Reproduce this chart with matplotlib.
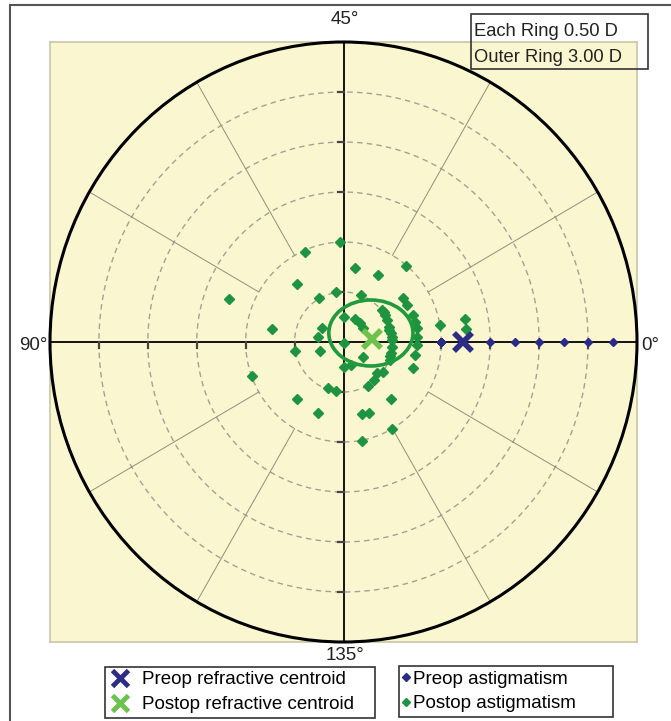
import numpy as np
import matplotlib
matplotlib.use("Agg")
import matplotlib.pyplot as plt
from matplotlib.patches import Circle, Ellipse, Rectangle
from matplotlib.lines import Line2D

plt.rcParams["font.family"] = ["Liberation Sans", "DejaVu Sans"]

# ring settings (D)
ring_step = 0.5
outer_ring = 3.0

# preop astigmatism, all on the 0 deg meridian (double-angle x, D)
preop_x = [1.0, 1.0, 1.0, 1.0, 1.0, 1.0, 1.0, 1.0, 1.5, 1.75, 2.0, 2.25, 2.5, 2.75]
preop_y = [0.0] * len(preop_x)

# postop astigmatism, double-angle components (D)
postop_x = [-0.04, -0.39, 0.12, 0.35, 0.64, -0.48, -0.08, -0.25, 0.18, -1.17,
            0.61, 0.65, 0.39, 0.42, 0.71, 0.73, 0.75, 0.12, 0.17, 0.20,
            0.44, 0.46, 0.49, 0.50, 0.50, 0.49, 0.48, 0.75, 0.75, 0.73,
            0.71, 0.99, 1.24, 1.25, 0.00, -0.22, -0.26, 0.00, -0.73, -0.50,
            -0.24, 0.20, 0.00, 0.08, -0.94, 0.34, 0.31, 0.25, 0.40, -0.16,
            -0.08, -0.48, 0.49, -0.26, 0.19, 0.26, 0.50, 0.19, 0.41, 0.47,
            0.50, 0.48]
postop_y = [1.00, 0.90, 0.74, 0.67, 0.76, 0.58, 0.50, 0.44, 0.47, 0.43,
            0.44, 0.37, 0.32, 0.27, 0.27, 0.20, 0.14, 0.23, 0.19, 0.14,
            0.22, 0.15, 0.09, 0.02, -0.05, -0.11, -0.18, 0.05, -0.03, -0.13,
            -0.26, 0.17, 0.23, 0.13, 0.25, 0.14, 0.05, -0.01, 0.13, -0.09,
            -0.09, -0.15, -0.25, -0.23, -0.34, -0.31, -0.38, -0.44, -0.30, -0.46,
            -0.49, -0.57, -0.57, -0.71, -0.72, -0.71, -0.87, -0.99, 0.30, 0.12,
            0.05, -0.14]

# centroids and postop confidence ellipse (D)
preop_centroid = (1.22, 0.0)
postop_centroid = (0.29, 0.03)
ellipse_center = (0.28, 0.09)
ellipse_size = (0.86, 0.66)

axis_labels = ["0°", "45°", "90°", "135°"]

W, H = 671, 721
FS = 13.5
TXT = "#222222"

fig = plt.figure(figsize=(W / 100, H / 100), dpi=100)

# outer frame
fig.add_artist(Rectangle((10 / W, -0.01), 1.0, 1 - 5 / H + 0.01, transform=fig.transFigure,
                         fill=False, edgecolor="#555555", linewidth=1.5))

ax = fig.add_axes([50 / W, 79 / H, 587 / W, 600 / H])
ax.set_xlim(-outer_ring, outer_ring)
ax.set_ylim(-outer_ring, outer_ring)
ax.set_facecolor("#faf7d0")
for s in ax.spines.values():
    s.set_edgecolor("#c9c6a6")
    s.set_linewidth(1.2)
ax.set_xticks([])
ax.set_yticks([])

theta = np.linspace(0, 2 * np.pi, 400)
rings = np.arange(ring_step, outer_ring, ring_step)
for r in rings:
    ax.plot(r * np.cos(theta), r * np.sin(theta), color="#a3a291",
            linestyle=(0, (4, 3)), linewidth=1.0)

# spokes every 30 deg (15 deg of axis)
for a in range(30, 360, 30):
    if a % 90 == 0:
        continue
    t = np.deg2rad(a)
    ax.plot([1.0 * np.cos(t), outer_ring * np.cos(t)],
            [1.0 * np.sin(t), outer_ring * np.sin(t)],
            color="#8f8f7a", linewidth=0.7)

ax.plot([-outer_ring, outer_ring], [0, 0], color="black", linewidth=1.3)
ax.plot([0, 0], [-outer_ring, outer_ring], color="black", linewidth=1.3)
for r in rings:
    for sgn in (1, -1):
        ax.plot([sgn * r, sgn * r], [0, -0.055], color="#444444", linewidth=1.6)
        ax.plot([-0.06, 0], [sgn * r, sgn * r], color="#444444", linewidth=1.6)

ax.add_patch(Circle((0, 0), outer_ring, fill=False, edgecolor="black",
                    linewidth=2.2, clip_on=False, zorder=5))

ax.plot(postop_x, postop_y, linestyle="none", marker="D", markersize=5.5,
        color="#1f9440", zorder=6)
ax.plot(preop_x, preop_y, linestyle="none", marker="D", markersize=4,
        color="#2a2a88", zorder=6)

ax.add_patch(Ellipse(ellipse_center, ellipse_size[0], ellipse_size[1], fill=False,
                     edgecolor="#1f9a3c", linewidth=2.6, zorder=7))

ax.plot(*preop_centroid, marker="x", markersize=13, mew=4, color="#2d2d86", zorder=8)
ax.plot(*postop_centroid, marker="x", markersize=13, mew=4, color="#6cc24a", zorder=8)

# meridian labels
fig.text(641 / W, 1 - 345 / H, axis_labels[0], ha="left", va="center", fontsize=FS, color=TXT)
fig.text(345 / W, 1 - 20 / H, axis_labels[1], ha="center", va="center", fontsize=FS, color=TXT)
fig.text(48 / W, 1 - 345 / H, axis_labels[2], ha="right", va="center", fontsize=FS, color=TXT)
fig.text(345 / W, 1 - 656 / H, axis_labels[3], ha="center", va="center", fontsize=FS, color=TXT)

# ring scale box
fig.text(474 / W, 1 - 36 / H, f"Each Ring {ring_step:.2f} D",
         ha="left", va="baseline", fontsize=13.2, color=TXT)
fig.text(474 / W, 1 - 62 / H, f"Outer Ring {outer_ring:.2f} D",
         ha="left", va="baseline", fontsize=13.2, color=TXT)
fig.add_artist(Rectangle((471 / W, 1 - 69 / H), 177 / W, 55 / H, transform=fig.transFigure,
                         fill=False, edgecolor="#333333", linewidth=1.2))

h1 = Line2D([], [], linestyle="none", marker="x", markersize=11, mew=3.5, color="#2d2d86")
h2 = Line2D([], [], linestyle="none", marker="x", markersize=11, mew=3.5, color="#6cc24a")
leg1 = fig.legend([h1, h2], ["Preop refractive centroid", "Postop refractive centroid"],
                  loc="lower left", bbox_to_anchor=(105 / W, 3 / H, 270 / W, 52 / H),
                  mode="expand", fontsize=FS,
                  frameon=True, fancybox=False, edgecolor="#333333", framealpha=1,
                  handlelength=1.15, handletextpad=0.6, borderpad=0.25, labelspacing=0.41,
                  borderaxespad=0)
leg1.get_frame().set_linewidth(1.2)

h3 = Line2D([], [], linestyle="none", marker="D", markersize=4, color="#2a2a88")
h4 = Line2D([], [], linestyle="none", marker="D", markersize=4, color="#1f9440")
leg2 = fig.legend([h3, h4], ["Preop astigmatism", "Postop astigmatism"],
                  loc="lower left", bbox_to_anchor=(399 / W, 4 / H, 214 / W, 52 / H),
                  mode="expand", fontsize=FS,
                  frameon=True, fancybox=False, edgecolor="#333333", framealpha=1,
                  handlelength=0.2, handletextpad=0.3, borderpad=0.25, labelspacing=0.41,
                  borderaxespad=0)
leg2.get_frame().set_linewidth(1.2)

fig.savefig("out.png", dpi=100)
